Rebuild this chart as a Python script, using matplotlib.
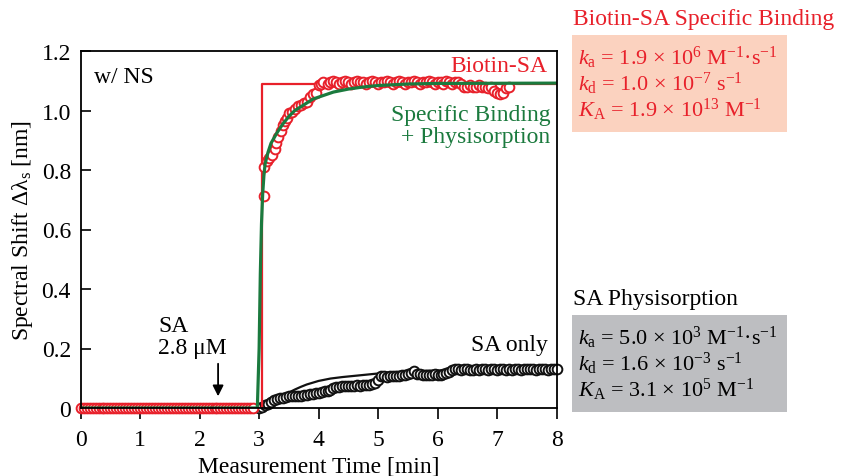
import matplotlib
matplotlib.use("Agg")
import matplotlib.pyplot as plt
from matplotlib.patches import Rectangle

plt.rcParams["font.family"] = ["Liberation Serif", "DejaVu Serif"]
plt.rcParams["mathtext.fontset"] = "custom"
plt.rcParams["mathtext.rm"] = "Liberation Serif"
plt.rcParams["mathtext.it"] = "Liberation Serif:italic"

RED = "#e8202a"
GREEN = "#1b7a3e"
SALMON = "#fbd2bf"
GRAY = "#bdbec1"

# Biotin-SA measurement (red circles)
red_time = [0.00, 0.05, 0.10, 0.15, 0.20, 0.25, 0.30, 0.35, 0.40, 0.45, 0.50, 0.55,
            0.60, 0.65, 0.70, 0.75, 0.80, 0.85, 0.90, 0.95, 1.00, 1.05, 1.10, 1.15,
            1.20, 1.25, 1.30, 1.35, 1.40, 1.45, 1.50, 1.55, 1.60, 1.65, 1.70, 1.75,
            1.80, 1.85, 1.90, 1.95, 2.00, 2.05, 2.10, 2.15, 2.20, 2.25, 2.30, 2.35,
            2.40, 2.45, 2.50, 2.55, 2.60, 2.65, 2.70, 2.75, 2.80, 2.85, 2.89,
            3.08, 3.09, 3.13, 3.17, 3.22, 3.26, 3.29, 3.32, 3.36, 3.40, 3.43, 3.47,
            3.51, 3.55, 3.60, 3.65, 3.70, 3.75, 3.80, 3.85, 3.90, 3.95, 4.00, 4.04,
            4.08, 4.15, 4.20, 4.25, 4.30, 4.35, 4.40, 4.45, 4.50, 4.55, 4.60, 4.65,
            4.70, 4.75, 4.80, 4.85, 4.90, 4.95, 5.00, 5.05, 5.10, 5.15, 5.20, 5.25,
            5.30, 5.35, 5.40, 5.45, 5.50, 5.55, 5.60, 5.65, 5.70, 5.75, 5.80, 5.85,
            5.90, 5.95, 6.00, 6.05, 6.10, 6.15, 6.20, 6.25, 6.30, 6.35, 6.40, 6.45,
            6.50, 6.55, 6.60, 6.65, 6.70, 6.75, 6.80, 6.85, 6.90, 6.95, 7.00, 7.05,
            7.10, 7.15, 7.20]
red_shift = [0.0, 0.0, 0.0, 0.0, 0.0, 0.0, 0.0, 0.0, 0.0, 0.0, 0.0, 0.0,
             0.0, 0.0, 0.0, 0.0, 0.0, 0.0, 0.0, 0.0, 0.0, 0.0, 0.0, 0.0,
             0.0, 0.0, 0.0, 0.0, 0.0, 0.0, 0.0, 0.0, 0.0, 0.0, 0.0, 0.0,
             0.0, 0.0, 0.0, 0.0, 0.0, 0.0, 0.0, 0.0, 0.0, 0.0, 0.0, 0.0,
             0.0, 0.0, 0.0, 0.0, 0.0, 0.0, 0.0, 0.0, 0.0, 0.0, 0.0,
             0.714, 0.81, 0.83, 0.84, 0.85, 0.87, 0.89, 0.91, 0.93, 0.95, 0.965, 0.975,
             0.99, 0.995, 1.005, 1.015, 1.02, 1.025, 1.03, 1.045, 1.055, 1.06, 1.085, 1.09,
             1.095, 1.09, 1.095, 1.10, 1.095, 1.09, 1.095, 1.10, 1.095, 1.09, 1.095, 1.10,
             1.095, 1.095, 1.09, 1.095, 1.10, 1.095, 1.09, 1.095, 1.095, 1.10, 1.095, 1.09,
             1.095, 1.10, 1.095, 1.09, 1.095, 1.095, 1.10, 1.095, 1.09, 1.095, 1.095, 1.10,
             1.095, 1.09, 1.095, 1.095, 1.09, 1.10, 1.095, 1.09, 1.095, 1.095, 1.09, 1.08,
             1.08, 1.085, 1.08, 1.08, 1.085, 1.08, 1.08, 1.075, 1.08, 1.065, 1.06, 1.055,
             1.06, 1.075, 1.08]

# Biotin-SA specific binding fit (red step line)
step_time = [0.0, 3.04, 3.04, 8.0]
step_shift = [0.0, 0.0, 1.09, 1.09]

# Specific binding + physisorption fit (green)
green_time = [0.0, 2.97, 3.00, 3.02, 3.04, 3.06, 3.08, 3.10, 3.15, 3.20, 3.30, 3.40,
              3.50, 3.60, 3.80, 3.90, 4.00, 4.25, 4.50, 4.75, 5.00, 5.50, 6.00, 8.00]
green_shift = [0.0, 0.0, 0.20, 0.45, 0.62, 0.72, 0.78, 0.82, 0.86, 0.89, 0.925, 0.955,
               0.98, 1.00, 1.025, 1.038, 1.045, 1.062, 1.072, 1.079, 1.084, 1.089, 1.091, 1.092]

# SA only measurement (black circles)
sa_time = [3.00, 3.05, 3.10, 3.15, 3.20, 3.25, 3.30, 3.35, 3.40, 3.45, 3.50, 3.55,
           3.60, 3.65, 3.70, 3.75, 3.80, 3.85, 3.90, 3.95, 4.00, 4.05, 4.10, 4.15,
           4.20, 4.25, 4.30, 4.35, 4.40, 4.45, 4.50, 4.55, 4.60, 4.65, 4.70, 4.75,
           4.80, 4.85, 4.90, 4.95, 5.00, 5.05, 5.10, 5.15, 5.20, 5.25, 5.30, 5.35,
           5.40, 5.45, 5.50, 5.55, 5.60, 5.65, 5.70, 5.75, 5.80, 5.85, 5.90, 5.95,
           6.00, 6.05, 6.10, 6.15, 6.20, 6.25, 6.30, 6.35, 6.40, 6.45, 6.50, 6.55,
           6.60, 6.65, 6.70, 6.75, 6.80, 6.85, 6.90, 6.95, 7.00, 7.05, 7.10, 7.15,
           7.20, 7.25, 7.30, 7.35, 7.40, 7.45, 7.50, 7.55, 7.60, 7.65, 7.70, 7.75,
           7.80, 7.85, 7.90, 7.95, 8.00]
sa_shift = [0.0, 0.005, 0.01, 0.015, 0.02, 0.027, 0.03, 0.033, 0.035, 0.038, 0.04, 0.04,
            0.041, 0.04, 0.042, 0.043, 0.045, 0.046, 0.047, 0.05, 0.052, 0.054, 0.056, 0.058,
            0.062, 0.066, 0.07, 0.072, 0.075, 0.075, 0.074, 0.075, 0.075, 0.076, 0.075, 0.077,
            0.077, 0.078, 0.08, 0.083, 0.095, 0.108, 0.106, 0.105, 0.106, 0.107, 0.108, 0.108,
            0.11, 0.112, 0.113, 0.118, 0.126, 0.115, 0.114, 0.112, 0.11, 0.112, 0.11, 0.113,
            0.11, 0.112, 0.115, 0.117, 0.12, 0.128, 0.131, 0.13, 0.129, 0.13, 0.13, 0.129,
            0.128, 0.13, 0.129, 0.13, 0.13, 0.129, 0.13, 0.13, 0.129, 0.13, 0.13, 0.128,
            0.13, 0.129, 0.13, 0.13, 0.129, 0.131, 0.131, 0.13, 0.13, 0.129, 0.13, 0.13,
            0.13, 0.129, 0.13, 0.13, 0.131]

# SA physisorption fit (black line)
sa_fit_time = [3.0, 3.1, 3.2, 3.3, 3.4, 3.5, 3.6, 3.7, 3.8, 3.9, 4.0, 4.2,
               4.4, 4.6, 4.8, 5.0, 5.2, 5.5, 6.0, 7.0, 8.0]
sa_fit_shift = [0.0, 0.008, 0.02, 0.032, 0.042, 0.052, 0.062, 0.071, 0.079, 0.085, 0.091, 0.099,
                0.104, 0.108, 0.112, 0.116, 0.12, 0.123, 0.126, 0.129, 0.13]

x_ticks = [0, 1, 2, 3, 4, 5, 6, 7, 8]
y_ticks = [0, 0.2, 0.4, 0.6, 0.8, 1.0, 1.2]
y_tick_labels = ["0", "0.2", "0.4", "0.6", "0.8", "1.0", "1.2"]

biotin_lines = [r"$k_\mathrm{a}$ = 1.9 × 10$^{6}$ M$^{−1}$·s$^{−1}$",
                r"$k_\mathrm{d}$ = 1.0 × 10$^{−7}$ s$^{−1}$",
                r"$K_\mathrm{A}$ = 1.9 × 10$^{13}$ M$^{−1}$"]
physi_lines = [r"$k_\mathrm{a}$ = 5.0 × 10$^{3}$ M$^{−1}$·s$^{−1}$",
               r"$k_\mathrm{d}$ = 1.6 × 10$^{−3}$ s$^{−1}$",
               r"$K_\mathrm{A}$ = 3.1 × 10$^{5}$ M$^{−1}$"]

FS = 17
W, H = 843, 477
fig = plt.figure(figsize=(W / 100, H / 100), dpi=100)
ax = fig.add_axes([80.7 / W, 1 - 409 / H, (556.5 - 80.7) / W, (409 - 52) / H])

mk = dict(marker="o", markersize=7, markerfacecolor="white", markeredgewidth=1.4,
          linestyle="none", clip_on=False)
ax.plot(sa_fit_time, sa_fit_shift, color="#111111", lw=1.6, zorder=2)
ax.plot(sa_time, sa_shift, markeredgecolor="#111111", zorder=3, **mk)
ax.plot(step_time, step_shift, color=RED, lw=1.6, zorder=4)
ax.plot(red_time, red_shift, markeredgecolor=RED, zorder=5, **mk)
ax.plot(green_time, green_shift, color=GREEN, lw=2.3, zorder=6)

ax.set_xlim(0, 8)
ax.set_ylim(0, 1.2)
ax.set_xticks(x_ticks)
ax.set_yticks(y_ticks)
ax.set_yticklabels(y_tick_labels)
ax.tick_params(axis="x", direction="out", length=8, width=1.2, labelsize=FS, pad=7)
ax.tick_params(axis="y", direction="in", length=7, width=1.2, labelsize=FS, pad=7)
for s in ax.spines.values():
    s.set_linewidth(1.3)
    s.set_zorder(7)
ax.set_xlabel("Measurement Time [min]", fontsize=FS, labelpad=4)
ax.set_ylabel(r"Spectral Shift Δλ$_\mathrm{s}$ [nm]", fontsize=FS, labelpad=5)

ax.text(0.22, 1.115, "w/ NS", fontsize=FS, va="center", ha="left")
ax.text(7.85, 1.15, "Biotin-SA", fontsize=FS, color=RED, va="center", ha="right")
ax.text(7.9, 0.95, "Specific Binding\n+ Physisorption", fontsize=FS, color=GREEN,
        va="center", ha="right", multialignment="right", linespacing=1.05)
ax.text(7.85, 0.215, "SA only", fontsize=FS, va="center", ha="right")
ax.text(1.3, 0.24, "SA\n2.8 μM", fontsize=FS, va="center", ha="left", linespacing=1.05)
ax.annotate("", xy=(2.31, 0.03), xytext=(2.31, 0.158),
            arrowprops=dict(arrowstyle="-|>", color="black", lw=1.3, mutation_scale=16))

# parameter boxes on the right
fig.patches.append(Rectangle((572 / W, 1 - 133 / H), 215 / W, 97 / H,
                             transform=fig.transFigure, facecolor=SALMON, edgecolor="none"))
fig.patches.append(Rectangle((572 / W, 1 - 413 / H), 215 / W, 97 / H,
                             transform=fig.transFigure, facecolor=GRAY, edgecolor="none"))
fig.text(573 / W, 1 - 20 / H, "Biotin-SA Specific Binding", fontsize=FS, color=RED, va="center")
fig.text(573 / W, 1 - 300 / H, "SA Physisorption", fontsize=FS, color="black", va="center")
for i, line in enumerate(biotin_lines):
    fig.text(578 / W, 1 - (58 + 26 * i) / H, line, fontsize=16, color=RED, va="center")
for i, line in enumerate(physi_lines):
    fig.text(578 / W, 1 - (338 + 26 * i) / H, line, fontsize=16, color="black", va="center")

fig.savefig("out.png", dpi=100)
